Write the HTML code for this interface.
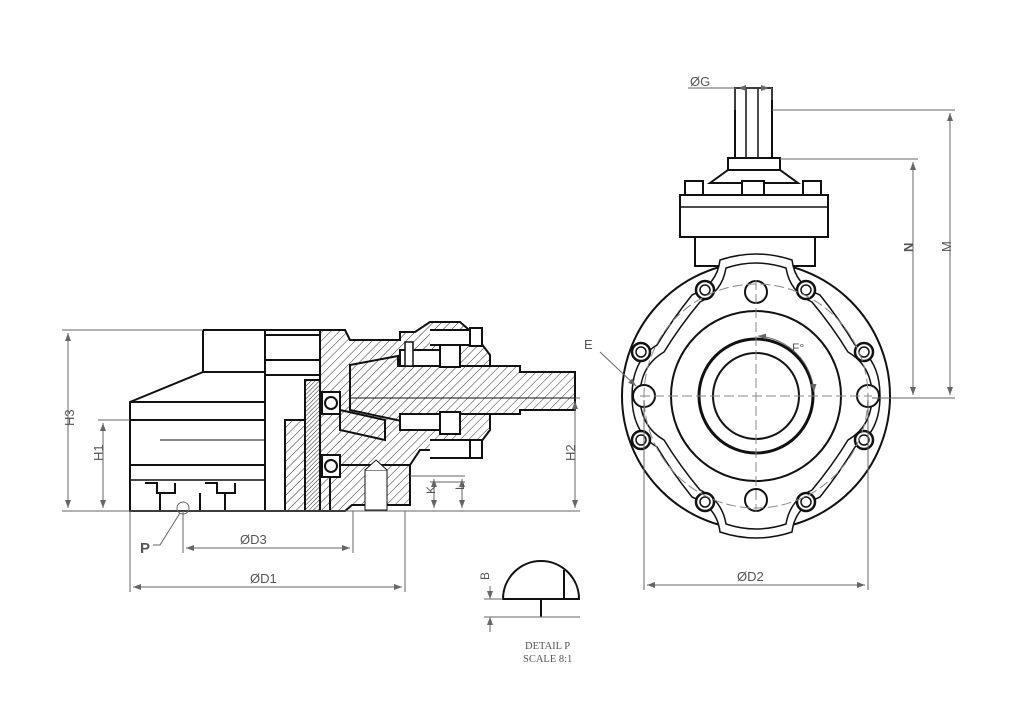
<!DOCTYPE html>
<html><head><meta charset="utf-8"><style>
html,body{margin:0;padding:0;background:#fff}
svg{display:block}
text{font-family:"Liberation Sans",sans-serif;fill:#555}
</style></head><body>
<svg width="1024" height="724" viewBox="0 0 1024 724" xmlns="http://www.w3.org/2000/svg">
<defs>
<pattern id="h" width="6" height="6" patternUnits="userSpaceOnUse" patternTransform="rotate(45)">
<rect width="6" height="6" fill="#fff"/><line x1="0" y1="0" x2="0" y2="6" stroke="#333" stroke-width="1"/></pattern>
<pattern id="h2" width="3" height="3" patternUnits="userSpaceOnUse" patternTransform="rotate(45)">
<rect width="3" height="3" fill="#fff"/><line x1="0" y1="0" x2="0" y2="3" stroke="#222" stroke-width="1"/></pattern>
<marker id="a" markerWidth="8" markerHeight="6" refX="8" refY="3" orient="auto"><path d="M0,0 L8,3 L0,6z" fill="#666"/></marker>
<marker id="b" markerWidth="8" markerHeight="6" refX="0" refY="3" orient="auto"><path d="M8,0 L0,3 L8,6z" fill="#666"/></marker>
</defs>

<!-- LEFT VIEW -->
<g stroke="#111" stroke-width="2" fill="#fff">
<path d="M203,330 H330 V395 H265 V330"/>
<path d="M203,330 V372 L130,402 V511 H265"/>
<line x1="130" y1="402" x2="265" y2="402"/>
<line x1="203" y1="372" x2="265" y2="372"/>
<line x1="130" y1="420" x2="265" y2="420"/>
<line x1="130" y1="465" x2="265" y2="465"/>
<line x1="130" y1="480" x2="265" y2="480" stroke-width="1.5"/>
<rect x="265" y="335" width="55" height="176"/>
<line x1="265" y1="360" x2="320" y2="360"/>
<line x1="265" y1="375" x2="320" y2="375"/>
<path d="M145,483 h12 v10 h18 v-10" fill="none"/>
<path d="M205,483 h12 v10 h18 v-10" fill="none"/>
<line x1="160" y1="493" x2="160" y2="511"/><line x1="200" y1="493" x2="200" y2="511"/><line x1="225" y1="493" x2="225" y2="511"/>
<rect x="285" y="420" width="20" height="91" fill="url(#h)"/>
<rect x="305" y="380" width="15" height="131" fill="url(#h2)"/>
<!-- housing -->
<path d="M320,330 H345 L350,340 H400 V332 H415 L430,322 H460 L475,335 L490,355 V380 H470 V410 H490 V430 L475,450 H420 L410,465 H330 V511 H320 Z" fill="url(#h)"/>
<path d="M330,465 H410 V505 H352 L345,511 H330 Z" fill="url(#h)"/>
<rect x="365" y="470" width="22" height="40" fill="#fff" stroke-width="1"/>
<path d="M365,470 L376,460 L387,470" fill="#fff" stroke-width="1"/>
<!-- shaft -->
<path d="M350,365 L398,356 V366 H520 V372 H575 V410 H520 V414 H420 V425 L350,410 Z" fill="url(#h)"/>
<line x1="350" y1="398" x2="575" y2="398" stroke-width="1"/>
<path d="M340,410 L385,420 V440 L340,430 Z" fill="url(#h)"/>
<!-- bearings -->
<rect x="322" y="392" width="18" height="22"/><circle cx="331" cy="403" r="6"/>
<rect x="322" y="455" width="18" height="22"/><circle cx="331" cy="466" r="6"/>
<rect x="400" y="350" width="60" height="16"/><rect x="400" y="414" width="60" height="16"/>
<rect x="440" y="345" width="20" height="22"/><rect x="440" y="412" width="20" height="22"/>
<path d="M430,330 H475 V345 H430" /><path d="M430,440 H475 V458 H430"/>
<rect x="470" y="328" width="12" height="18"/><rect x="470" y="440" width="12" height="18"/>
<rect x="405" y="342" width="8" height="24" stroke-width="1.5"/>
</g>
<line x1="160" y1="440" x2="265" y2="440" stroke="#111" stroke-width="1"/>

<!-- left dimensions -->
<g stroke="#666" stroke-width="1" fill="none">
<line x1="62" y1="330" x2="203" y2="330"/>
<line x1="62" y1="511" x2="580" y2="511"/>
<line x1="68" y1="333" x2="68" y2="508" marker-start="url(#b)" marker-end="url(#a)"/>
<line x1="98" y1="420" x2="130" y2="420"/>
<line x1="103" y1="423" x2="103" y2="508" marker-start="url(#b)" marker-end="url(#a)"/>
<line x1="575" y1="398" x2="580" y2="398"/>
<line x1="575" y1="401" x2="575" y2="508" marker-start="url(#b)" marker-end="url(#a)"/>
<line x1="410" y1="476" x2="465" y2="476"/>
<line x1="430" y1="482" x2="465" y2="482"/>
<line x1="434" y1="479" x2="434" y2="508" marker-start="url(#b)" marker-end="url(#a)"/>
<line x1="462" y1="479" x2="462" y2="508" marker-start="url(#b)" marker-end="url(#a)"/>
<line x1="183" y1="511" x2="183" y2="553"/>
<line x1="353" y1="511" x2="353" y2="553"/>
<line x1="186" y1="548" x2="350" y2="548" marker-start="url(#b)" marker-end="url(#a)"/>
<line x1="130" y1="511" x2="130" y2="592"/>
<line x1="405" y1="511" x2="405" y2="592"/>
<line x1="133" y1="587" x2="402" y2="587" marker-start="url(#b)" marker-end="url(#a)"/>
<circle cx="183" cy="508" r="6"/>
<path d="M180,513 L160,545 H153"/>
</g>
<g font-size="13">
<text x="72" y="440" transform="rotate(-90 66 432)">H3</text>
<text x="100" y="472" transform="rotate(-90 96 465)">H1</text>
<text x="572" y="472" transform="rotate(-90 568 465)">H2</text>
<text x="432" y="505" transform="rotate(-90 428 498)" font-size="12">K</text>
<text x="462" y="500" transform="rotate(-90 458 494)" font-size="12">L</text>
<text x="240" y="544">ØD3</text>
<text x="250" y="583">ØD1</text>
<text x="140" y="553" font-weight="bold" fill="#333" font-size="15">P</text>
</g>

<!-- DETAIL P -->
<g stroke="#111" stroke-width="2" fill="#fff">
<path d="M503,599 A38,38 0 0 1 579,599 Z"/>
<line x1="541" y1="599" x2="541" y2="617"/>
<line x1="564" y1="570" x2="564" y2="599"/>
</g>
<g stroke="#666" stroke-width="1" fill="none">
<line x1="484" y1="599" x2="503" y2="599"/>
<line x1="484" y1="617" x2="580" y2="617"/>
<line x1="490" y1="586" x2="490" y2="599" marker-end="url(#a)"/>
<line x1="490" y1="632" x2="490" y2="617" marker-end="url(#a)"/>
</g>
<text x="482" y="583" font-size="12" transform="rotate(-90 484 578)">B</text>
<text x="525" y="649" font-size="10.5" style="font-family:'Liberation Serif',serif" fill="#333">DETAIL P</text>
<text x="523" y="662" font-size="10.5" style="font-family:'Liberation Serif',serif" fill="#333">SCALE 8:1</text>

<!-- RIGHT VIEW -->
<g stroke="#111" stroke-width="2" fill="#fff">
<rect x="695" y="236" width="120" height="30"/>
<rect x="735" y="88" width="37" height="72"/>
<line x1="746" y1="88" x2="746" y2="160" stroke-width="1.5"/><line x1="758" y1="88" x2="758" y2="160" stroke-width="1.5"/>
<rect x="728" y="158" width="52" height="12"/>
<path d="M710,183 L728,170 H780 L798,183 Z"/>
<rect x="685" y="181" width="18" height="14"/><rect x="742" y="181" width="22" height="14"/><rect x="803" y="181" width="18" height="14"/>
<rect x="680" y="195" width="148" height="42"/>
<line x1="680" y1="207" x2="828" y2="207" stroke-width="1.5"/>
<circle cx="756" cy="396" r="134"/>
<path d="M720,260 Q756,248 792,260 Q795,285 820,295 Q840,320 855,345 Q880,360 880,396 Q880,432 855,447 Q840,472 820,497 Q795,507 792,532 Q756,544 720,532 Q717,507 692,497 Q672,472 657,447 Q632,432 632,396 Q632,360 657,345 Q672,320 692,295 Q717,285 720,260 Z" stroke-width="1.5"/>
<path d="M726,268 Q756,258 786,268 Q790,292 812,302 Q832,326 848,352 Q872,366 872,396 Q872,426 848,440 Q832,466 812,490 Q790,500 786,524 Q756,534 726,524 Q722,500 700,490 Q680,466 664,440 Q640,426 640,396 Q640,366 664,352 Q680,326 700,302 Q722,292 726,268 Z" stroke-width="1.5"/>
<circle cx="756" cy="396" r="85"/>
<circle cx="756" cy="396" r="57" stroke-width="3"/>
<circle cx="756" cy="396" r="43"/>
<circle cx="756" cy="292" r="11"/><circle cx="756" cy="500" r="11"/>
<circle cx="644" cy="396" r="11"/><circle cx="868" cy="396" r="11"/>
</g>
<g stroke="#111" stroke-width="2.5" fill="#fff">
<circle cx="705" cy="290" r="9"/><circle cx="806" cy="290" r="9"/>
<circle cx="641" cy="352" r="9"/><circle cx="864" cy="352" r="9"/>
<circle cx="641" cy="440" r="9"/><circle cx="864" cy="440" r="9"/>
<circle cx="705" cy="502" r="9"/><circle cx="806" cy="502" r="9"/>
</g>
<g stroke="#111" stroke-width="1.5" fill="none">
<circle cx="705" cy="290" r="5"/><circle cx="806" cy="290" r="5"/>
<circle cx="641" cy="352" r="5"/><circle cx="864" cy="352" r="5"/>
<circle cx="641" cy="440" r="5"/><circle cx="864" cy="440" r="5"/>
<circle cx="705" cy="502" r="5"/><circle cx="806" cy="502" r="5"/>
</g>
<g stroke="#888" stroke-width="1" fill="none" stroke-dasharray="10,4">
<circle cx="756" cy="396" r="112"/>
<line x1="640" y1="396" x2="872" y2="396"/>
<line x1="756" y1="280" x2="756" y2="512"/>
</g>
<g stroke="#666" stroke-width="1" fill="none">
<line x1="688" y1="88" x2="772" y2="88"/>
<line x1="735" y1="88" x2="735" y2="110"/><line x1="772" y1="88" x2="772" y2="100"/>
<line x1="738" y1="88" x2="746" y2="88" marker-start="url(#b)"/><line x1="760" y1="88" x2="769" y2="88" marker-end="url(#a)"/>
<line x1="772" y1="110" x2="955" y2="110"/>
<line x1="780" y1="159" x2="918" y2="159"/>
<line x1="872" y1="398" x2="955" y2="398"/>
<line x1="950" y1="113" x2="950" y2="395" marker-start="url(#b)" marker-end="url(#a)"/>
<line x1="913" y1="162" x2="913" y2="395" marker-start="url(#b)" marker-end="url(#a)"/>
<line x1="644" y1="400" x2="644" y2="590"/>
<line x1="868" y1="400" x2="868" y2="590"/>
<line x1="647" y1="585" x2="865" y2="585" marker-start="url(#b)" marker-end="url(#a)"/>
<path d="M600,352 L636,386" marker-end="url(#a)"/>
<path d="M758,336 A60,60 0 0 1 814,392" marker-start="url(#b)" marker-end="url(#a)"/>
</g>
<g font-size="13">
<text x="690" y="86">ØG</text>
<text x="947" y="262" transform="rotate(-90 944 255)">M</text>
<text x="909" y="262" transform="rotate(-90 906 255)" font-weight="bold" fill="#333">N</text>
<text x="737" y="581">ØD2</text>
<text x="584" y="349">E</text>
<text x="792" y="352" font-size="12">F°</text>
</g>
</svg>
</body></html>
